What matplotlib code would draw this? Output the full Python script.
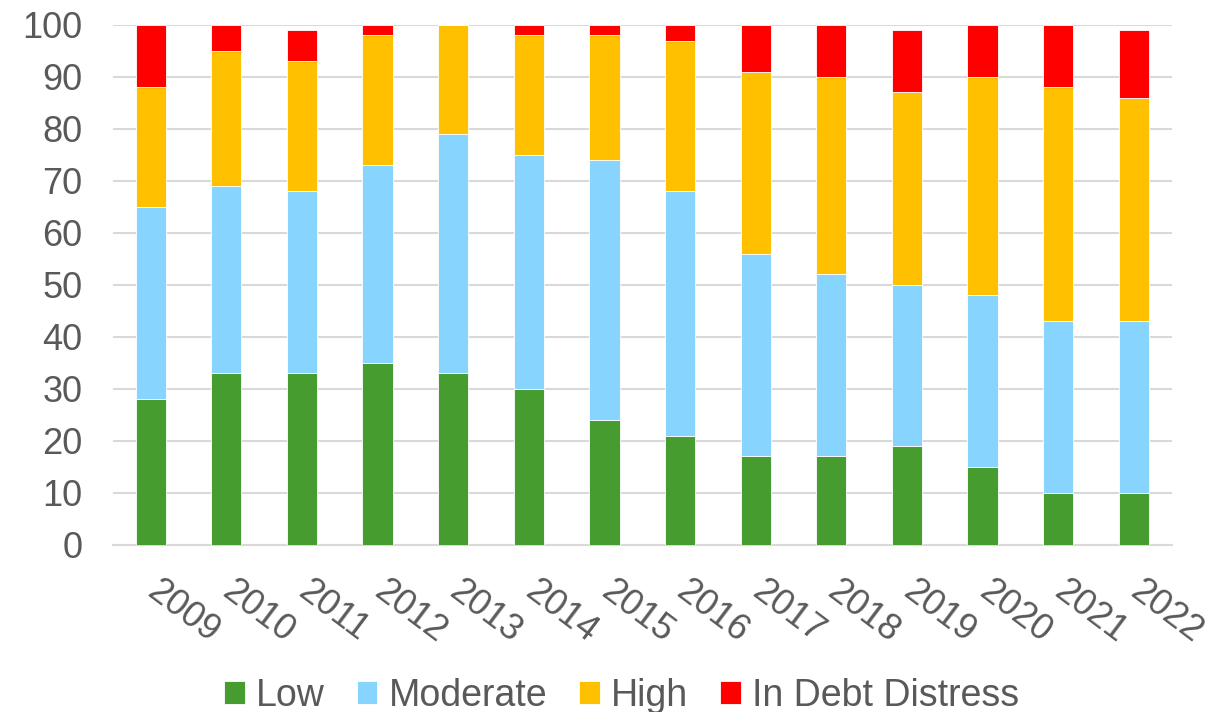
import numpy as np
import matplotlib.pyplot as plt

plt.rcParams['font.family'] = ['Liberation Sans', 'DejaVu Sans']

years = ['2009', '2010', '2011', '2012', '2013', '2014', '2015',
         '2016', '2017', '2018', '2019', '2020', '2021', '2022']
# shares of countries by risk rating (percent)
low = [28, 33, 33, 35, 33, 30, 24, 21, 17, 17, 19, 15, 10, 10]
moderate = [37, 36, 35, 38, 46, 45, 50, 47, 39, 35, 31, 33, 33, 33]
high = [23, 26, 25, 25, 21, 23, 24, 29, 35, 38, 37, 42, 45, 43]
distress = [12, 5, 6, 2, 0, 2, 2, 3, 9, 10, 12, 10, 12, 13]

series = [('Low', low, '#469C2F'),
          ('Moderate', moderate, '#87D4FF'),
          ('High', high, '#FFC000'),
          ('In Debt Distress', distress, '#FF0000')]

txt = '#595959'
fs = 26
fig = plt.figure(figsize=(12.14, 7.12), dpi=100)
ax = fig.add_axes([0.093, 0.235, 0.872, 0.73])

x = np.arange(len(years))
bottom = np.zeros(len(years))
for name, vals, col in series:
    ax.bar(x, vals, 0.4, bottom=bottom, color=col, label=name,
           edgecolor='white', linewidth=0.6, zorder=3)
    bottom += np.array(vals)

ax.set_ylim(0, 100)
ax.set_xlim(-0.5, len(years) - 0.5)
ax.set_yticks(range(0, 101, 10))
ax.yaxis.grid(True, color='#D9D9D9', linewidth=1.5, zorder=0)
for s in ['top', 'right', 'left']:
    ax.spines[s].set_visible(False)
ax.spines['bottom'].set_color('#D9D9D9')
ax.spines['bottom'].set_linewidth(1.5)
ax.tick_params(axis='both', length=0, labelsize=fs, labelcolor=txt)
ax.tick_params(axis='y', pad=22)
ax.set_xticks(x)
ax.set_xticklabels(years, rotation=-37, ha='left', va='center',
                   rotation_mode='anchor')
ax.tick_params(axis='x', pad=31)

leg = fig.legend(loc='lower center', ncol=4, frameon=False, fontsize=27,
                 bbox_to_anchor=(0.512, -0.05), handlelength=0.55,
                 handleheight=0.55, handletextpad=0.3, columnspacing=0.85)
for t in leg.get_texts():
    t.set_color(txt)

fig.savefig('out.png', dpi=100)
